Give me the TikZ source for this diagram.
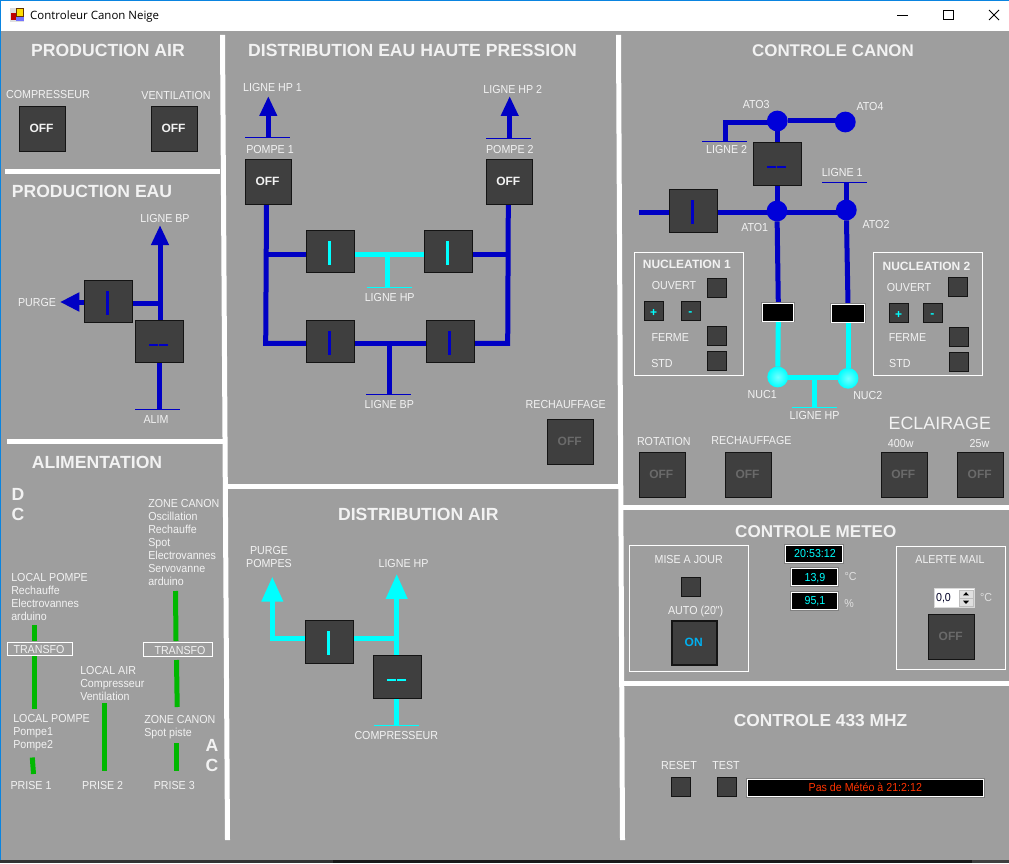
\documentclass[tikz,border=0pt]{standalone}
\usepackage{fontspec}
\setmainfont{Liberation Sans}
\newfontfamily\labf[FakeStretch=0.92]{Liberation Sans}
\newfontfamily\titf{Open Sans}
\usetikzlibrary{calc,arrows.meta,positioning}
\pgfdeclarelayer{panel}\pgfdeclarelayer{pipes}
\pgfsetlayers{panel,pipes,main}
\definecolor{panelgray}{HTML}{9E9E9E}
\definecolor{btnfill}{HTML}{3F3F3F}
\definecolor{btnedge}{HTML}{141414}
\definecolor{pblue}{HTML}{0000C4}
\definecolor{pcyan}{HTML}{00FFFF}
\definecolor{pgreen}{HTML}{00B800}
\definecolor{txt}{HTML}{F2F2F2}
\definecolor{dimoff}{HTML}{6A6A6A}
\definecolor{winblue}{HTML}{0A84E0}
\definecolor{onblue}{HTML}{00B0F0}
\definecolor{alarmred}{HTML}{FF3300}
\tikzset{
 x=.75pt,y=-.75pt,
 boxbase/.style={draw=btnedge,fill=btnfill,line width=.75pt,inner sep=0,outer sep=0},
 valve/.style={boxbase,minimum width=35.55pt,minimum height=31.6pt},
 bigbtn/.style={boxbase,minimum width=34pt,minimum height=33.3pt},
 smallbtn/.style={boxbase,minimum size=13.8pt},
 onbtn/.style={bigbtn,line width=1.6pt,minimum width=33.4pt,minimum height=32.7pt},
 lab/.style={text=txt,inner sep=0,anchor=base,yshift=-3.1pt,font=\fontsize{8.7}{9.75}\selectfont\labf},
 lablist/.style={text=txt,inner sep=0,anchor=north west,align=left,font=\fontsize{8.7}{9.75}\selectfont\labf},
 titl/.style={text=txt,inner sep=0,anchor=base,yshift=-4.6pt,font=\fontsize{#1}{14}\selectfont\bfseries},
 titl/.default=13.2,
 eclair/.style={text=txt,inner sep=0,anchor=base,yshift=-4.9pt,font=\fontsize{13.4}{15}\selectfont},
 offtx/.style={text=#1,inner sep=0,anchor=base,yshift=-3.2pt,font=\fontsize{9}{10}\selectfont\bfseries},
 offtx/.default=txt,
 nuct/.style={text=txt,inner sep=0,anchor=base,yshift=-3.2pt,font=\fontsize{9}{10}\selectfont\bfseries},
 frame/.style={draw=white,line width=.75pt,fill=none,inner sep=0,outer sep=0},
 disp/.style={draw=white,fill=black,line width=.75pt,inner sep=0,outer sep=0,preaction={draw=gray,line width=2.2pt}},
 bluep/.style={draw=pblue,line width=3.75pt},
 cyanp/.style={draw=pcyan,line width=3.75pt},
 greenp/.style={draw=pgreen,line width=3.75pt},
 blueend/.style={draw=pblue,line width=.75pt},
 cyanend/.style={draw=pcyan,line width=.75pt},
 bluearrow/.style={bluep,-{Triangle[width=12.5pt,length=15pt]}},
 cyanarrow/.style={cyanp,-{Triangle[width=15.5pt,length=18.7pt]}},
 ato/.style={circle,fill=blue!85!black,inner sep=0,outer sep=0,minimum size=15.6pt},
 nuc/.style={circle,inner color=pcyan!55!white,outer color=pcyan,inner sep=0,outer sep=0,minimum size=15.6pt},
}
\newcommand{\lbl}[4][]{\node[lab,#1] (#2) at (#3) {#4};}
\newcommand{\ttl}[4][13.2]{\node[titl=#1] (#2) at (#3) {#4};}
\newcommand{\Ivalve}[3]{\node[valve] (#1) at (#2) {};\fill[#3] ($(#1.center)+(-2.7,-10.7)$) rectangle ($(#1.center)+(.7,13.3)$);}
\newcommand{\Dvalve}[3]{\node[valve] (#1) at (#2) {};
 \fill[#3] ($(#1.center)+(-10.5,2.4)$) rectangle ($(#1.center)+(-1.5,4.4)$);
 \fill[#3] ($(#1.center)+(-.5,2.4)$) rectangle ($(#1.center)+(8.5,4.4)$);}
\newcommand{\Btn}[5][txt]{\node[bigbtn] (#2) at (#3) {};\node[offtx=#1] (#2t) at (#4) {#5};}
\begin{document}
\begin{tikzpicture}
\useasboundingbox (0,0) rectangle (1009,863);
\begin{pgfonlayer}{panel}
\fill[white] (0,0) rectangle (1009,863);
\fill[panelgray] (0,31) rectangle (1009,860);
\fill[black!90] (0,860) rectangle (1009,863);
\fill[black!80] (0,860) rectangle (333,863);
\fill[black!75] (972,860) rectangle (1009,863);
\fill[winblue] (0,0) rectangle (1009,1);
\fill[winblue] (0,0) rectangle (1,860);
% separators
\fill[white] (220,35) -- (225,35) -- (230,840) -- (225,840) -- cycle;
\fill[white] (616,35) -- (621,35) -- (625,840) -- (620,840) -- cycle;
\fill[white] (5,169) rectangle (220,174);
\fill[white] (7,439) rectangle (223,444);
\fill[white] (227,484) rectangle (619,489);
\fill[white] (622,505) rectangle (1009,510);
\fill[white] (624,681) rectangle (1009,686);
\end{pgfonlayer}
% title bar
\node[inner sep=0,anchor=base,font=\fontsize{8.6}{10}\selectfont\titf,text=black] (wintitle) at (94.7,20) {Controleur Canon Neige};
\fill[gray!25] (10,8) rectangle (24,22);
\fill[yellow!80!orange,draw=black!60!orange,line width=.3pt] (16,8.5) rectangle (23.5,16);
\fill[red!75!black] (11,13) rectangle (15.5,20);
\fill[blue!55!white] (16,17) rectangle (23.5,21);
\draw[black,line width=.75pt] (897,15.5) -- (908,15.5);
\draw[black,line width=.75pt] (943.5,10.5) rectangle (953,19.5);
\draw[black,line width=.6pt] (989,10) -- (999,20) (999,10) -- (989,20);

% ---------- PRODUCTION AIR
\ttl{tPA}{108,50}{PRODUCTION AIR}
\lbl{lComp}{48,94}{COMPRESSEUR}
\lbl{lVent}{176,95}{VENTILATION}
\Btn{bComp}{42.5,129}{41.5,128}{OFF}
\Btn{bVent}{174.5,129}{173.5,128}{OFF}

% ---------- PRODUCTION EAU
\ttl{tPE}{92,191}{PRODUCTION EAU}
\lbl{lBP}{165,218}{LIGNE BP}
\lbl{lPurge}{37,302}{PURGE}
\lbl{lAlim}{156,419}{ALIM}
\Ivalve{eI}{108.5,301.5}{pblue}
\Dvalve{eD}{159.5,341.5}{pblue}
\coordinate (eTip) at (160,225);
\coordinate (eJ) at (160,303);
\coordinate (pTip) at (60,302);
\coordinate (aEnd) at (159.5,409);
\coordinate (aL) at (135,409);
\coordinate (aR) at (180,409);
\begin{pgfonlayer}{pipes}
\draw[bluearrow] (eD.north -| eTip) -- (eTip);
\draw[bluep] (eI.east |- eJ) -- (eJ);
\draw[bluep,-{Triangle[width=13.5pt,length=14.5pt]}] (eI.west |- pTip) -- (pTip);
\draw[bluep] (eD.south -| aEnd) -- (aEnd);
\draw[blueend] (aL) -- (aR);
\end{pgfonlayer}

% ---------- ALIMENTATION
\ttl{tAL}{97,462}{ALIMENTATION}
\ttl{tD}{18,494}{D}\ttl{tC}{18,514}{C}
\ttl{tA}{212,745}{A}\ttl{tC2}{212,765}{C}
\node[lablist] (zc1) at (148,499.6) {ZONE CANON\\Oscillation\\Rechauffe\\Spot\\Electrovannes\\Servovanne\\arduino};
\node[lablist] (lp1) at (11,573.6) {LOCAL POMPE\\Rechauffe\\Electrovannes\\arduino};
\node[lablist] (lp2) at (13,714.6) {LOCAL POMPE\\Pompe1\\Pompe2};
\node[lablist] (la) at (80,665.9) {LOCAL AIR\\Compresseur\\Ventilation};
\node[lablist] (zc2) at (144,715.6) {ZONE CANON\\Spot piste};
\node[frame,minimum width=49pt,minimum height=10.2pt] (tr1) at (40,649) {};
\node[frame,minimum width=51.8pt,minimum height=10.5pt] (tr2) at (178,649.5) {};
\lbl{ltr1}{39,649}{TRANSFO}
\lbl{ltr2}{180,650}{TRANSFO}
\lbl{pr1}{31,785.7}{PRISE 1}
\lbl{pr2}{102.7,785.7}{PRISE 2}
\lbl{pr3}{174.3,785.7}{PRISE 3}
\coordinate (g1a) at (34.5,625);\coordinate (g1b) at (34.5,641);
\coordinate (g2a) at (34.5,656);\coordinate (g2b) at (34.5,709);
\coordinate (g3a) at (32.3,757.5);\coordinate (g3b) at (33.5,774);
\coordinate (g4a) at (104.5,703);\coordinate (g4b) at (104.5,771);
\coordinate (g5a) at (175.5,591);\coordinate (g5b) at (176,641);
\coordinate (g6a) at (176.5,660);\coordinate (g6b) at (177.2,707);
\coordinate (g7a) at (176.5,743);\coordinate (g7b) at (176.5,771);
\begin{pgfonlayer}{pipes}
\foreach \a/\b in {g1a/g1b,g2a/g2b,g3a/g3b,g4a/g4b,g5a/g5b,g6a/g6b,g7a/g7b} \draw[greenp] (\a) -- (\b);
\end{pgfonlayer}

% ---------- DISTRIBUTION EAU HP
\ttl{tDE}{412.5,50}{DISTRIBUTION EAU HAUTE PRESSION}
\lbl{lhp1}{272.5,87.3}{LIGNE HP 1}
\lbl{lhp2}{512.7,89.7}{LIGNE HP 2}
\lbl{lpo1}{270,149.3}{POMPE 1}
\lbl{lpo2}{509.8,149.3}{POMPE 2}
\Btn{bP1}{268.5,182}{267.5,181.3}{OFF}
\Btn{bP2}{509.5,182}{508.3,181.3}{OFF}
\Ivalve{v1}{330.5,251.8}{pcyan}
\Ivalve{v2}{448.5,251.8}{pcyan}
\Ivalve{v3}{330.5,341.8}{pblue}
\Ivalve{v4}{450.5,341.8}{pblue}
\lbl{lhpm}{389.7,297.7}{LIGNE HP}
\lbl{lbpm}{389.3,404.3}{LIGNE BP}
\lbl{lrech}{565.7,404.3}{RECHAUFFAGE}
\Btn[dimoff]{bRe}{570.5,442}{569.7,441.7}{OFF}
\coordinate (t1) at (268.3,96);\coordinate (b1) at (268.3,137.7);
\coordinate (b1L) at (245,137.7);\coordinate (b1R) at (290,137.7);
\coordinate (t2) at (509.7,96);\coordinate (b2) at (509.7,138.3);
\coordinate (b2L) at (486,138.3);\coordinate (b2R) at (531,138.3);
\coordinate (jL1) at (266.3,254.3);\coordinate (jL2) at (265.7,343.3);
\coordinate (jR1) at (508.3,254.3);\coordinate (jR2) at (507.7,343.3);
\coordinate (tH) at (387.3,254.3);\coordinate (tHe) at (387.3,287.3);
\coordinate (tHL) at (367.3,287.3);\coordinate (tHR) at (412,287.3);
\coordinate (tB) at (389.3,343.3);\coordinate (tBe) at (389.3,394.3);
\coordinate (tBL) at (366,394.3);\coordinate (tBR) at (411,394.3);
\coordinate (pL) at (266.5,204.7);\coordinate (pR) at (508.3,204.7);
\begin{pgfonlayer}{pipes}
\draw[bluearrow] (b1) -- (t1);
\draw[blueend] (b1L) -- (b1R);
\draw[bluearrow] (b2) -- (t2);
\draw[blueend] (b2L) -- (b2R);
\draw[bluep] (pL) -- (jL2) -- (v3.west |- jL2);
\draw[bluep] (pR) -- (jR2) -- (v4.east |- jR2);
\draw[bluep] (jL1) -- (v1.west |- jL1);
\draw[bluep] (jR1) -- (v2.east |- jR1);
\draw[cyanp] (v1.east |- tH) -- (v2.west |- tH);
\draw[cyanp] (tH) -- (tHe);
\draw[cyanend] (tHL) -- (tHR);
\draw[bluep] (v3.east |- tB) -- (v4.west |- tB);
\draw[bluep] (tB) -- (tBe);
\draw[blueend] (tBL) -- (tBR);
\end{pgfonlayer}

% ---------- DISTRIBUTION AIR
\ttl{tDA}{418.3,514}{DISTRIBUTION AIR}
\lbl{lpu}{269,550.7}{PURGE}
\lbl{lpp}{269,563.3}{POMPES}
\lbl{lhpa}{403.5,563.3}{LIGNE HP}
\lbl{lcpa}{396.3,735.7}{COMPRESSEUR}
\Ivalve{aI}{329.5,642}{pcyan}
\Dvalve{aD}{397.5,677}{pcyan}
\coordinate (aT1) at (272.3,576.7);
\coordinate (aJ1) at (272.3,638.7);
\coordinate (aJ2) at (396.7,638.7);
\coordinate (aT2) at (396.7,574);
\coordinate (aB) at (396.7,725.3);
\coordinate (aBL) at (374,725.3);\coordinate (aBR) at (419,725.3);
\begin{pgfonlayer}{pipes}
\draw[cyanp] (aI.west |- aJ1) -- (aJ1) -- ($(aJ1)+(0,-36)$);
\draw[cyanarrow] ($(aJ1)+(0,-30)$) -- (aT1);
\draw[cyanp] (aI.east |- aJ2) -- (aJ2);
\draw[cyanarrow] (aD.north -| aT2) -- (aT2);
\draw[cyanp] (aD.south -| aB) -- (aB);
\draw[cyanend] (aBL) -- (aBR);
\end{pgfonlayer}

% ---------- CONTROLE CANON
\ttl[12.7]{tCC}{833,50}{CONTROLE CANON}
\node[ato] (ato3) at (777.3,121) {};
\node[ato] (ato4) at (845.3,122) {};
\node[ato] (ato1) at (777,211) {};
\node[ato] (ato2) at (846.3,210) {};
\node[nuc] (nuc1) at (777.7,377) {};
\node[nuc] (nuc2) at (848,378.3) {};
\lbl{lato3}{756.2,104.3}{ATO3}
\lbl{lato4}{870,106.3}{ATO4}
\lbl{lato1}{754.7,227.7}{ATO1}
\lbl{lato2}{876,224.3}{ATO2}
\lbl{lnuc1}{762.2,394.3}{NUC1}
\lbl{lnuc2}{867.8,395.3}{NUC2}
\lbl{ll2}{726.7,149.3}{LIGNE 2}
\lbl{ll1}{842.2,172.7}{LIGNE 1}
\lbl{lhpc}{814.5,415.3}{LIGNE HP}
\Dvalve{cD}{777.5,164}{pblue}
\Ivalve{cI}{693.5,211}{pblue}
\node[disp,minimum width=23.1pt,minimum height=13.2pt] (d1) at (778.3,312.2) {};
\node[disp,minimum width=25.2pt,minimum height=13.2pt] (d2) at (848,313.2) {};
\coordinate (cL) at (725,122.3);\coordinate (cLb) at (725,141.3);
\coordinate (cLL) at (702.3,141.3);\coordinate (cLR) at (747.3,141.3);
\coordinate (cW) at (639.3,212.3);
\coordinate (cT1) at (846,182.3);\coordinate (cT1L) at (822,182.3);\coordinate (cT1R) at (867,182.3);
\coordinate (cH) at (814,377.3);\coordinate (cHe) at (814,407.3);
\coordinate (cHL) at (792.3,407.3);\coordinate (cHR) at (837,407.3);
\begin{pgfonlayer}{pipes}
\draw[bluep] (ato3 |- cL) -- (cL) -- (cLb);
\draw[blueend] (cLL) -- (cLR);
\draw[bluep] (ato3) -- (ato4 |- ato3);
\draw[bluep] (ato3) -- (cD.north -| ato3);
\draw[bluep] (cD.south -| ato1) -- (ato1);
\draw[bluep] (cW) -- (cI.west |- cW);
\draw[bluep] (cI.east |- cW) -- (ato2 |- cW);
\draw[bluep] (cT1) -- (cT1 |- ato2);
\draw[blueend] (cT1L) -- (cT1R);
\draw[bluep] (ato1) -- (d1.north);
\draw[bluep] (ato2) -- (d2.north);
\draw[cyanp] (d1.south) -- (nuc1);
\draw[cyanp] (d2.south) -- (nuc2);
\draw[cyanp] (nuc1 |- cH) -- (nuc2 |- cH);
\draw[cyanp] (cH) -- (cHe);
\draw[cyanend] (cHL) -- (cHR);
\end{pgfonlayer}
% nucleation 1
\node[frame,minimum width=81.8pt,minimum height=91.7pt] (n1f) at (689,314) {};
\node[nuct] (n1t) at (686.8,264.7) {NUCLEATION 1};
\lbl{n1o}{674,285.7}{OUVERT}
\lbl{n1f2}{670.3,337.7}{FERME}
\lbl{n1s}{662,363.7}{STD}
\node[smallbtn] (n1bo) at (717,288) {};
\node[smallbtn] (n1bf) at (717,336) {};
\node[smallbtn] (n1bs) at (717,361) {};
\node[smallbtn] (n1p) at (654,311) {};
\node[smallbtn] (n1m) at (691,311) {};
\node[offtx=pcyan] (n1pt) at (653.7,312.3) {+};
\node[offtx=pcyan] (n1mt) at (690.3,311.5) {-};
% nucleation 2
\node[frame,minimum width=81.8pt,minimum height=91.7pt] (n2f) at (928,314) {};
\node[nuct] (n2t) at (926.5,266.7) {NUCLEATION 2};
\lbl{n2o}{909,287.7}{OUVERT}
\lbl{n2f2}{907.5,337.7}{FERME}
\lbl{n2s}{899.8,363.7}{STD}
\node[smallbtn] (n2bo) at (958,287) {};
\node[smallbtn] (n2bf) at (959,337) {};
\node[smallbtn] (n2bs) at (959,362) {};
\node[smallbtn] (n2p) at (899,313) {};
\node[smallbtn] (n2m) at (933,313) {};
\node[offtx=pcyan] (n2pt) at (898.7,314.3) {+};
\node[offtx=pcyan] (n2mt) at (932.3,313.5) {-};
% bottom of canon
\node[eclair] (tEc) at (939.8,423.3) {ECLAIRAGE};
\lbl{l400}{900.7,443}{400w}
\lbl{l25}{979.5,443}{25w}
\lbl{lrot}{663.8,441.7}{ROTATION}
\lbl{lre2}{751.5,440.7}{RECHAUFFAGE}
\Btn[dimoff]{bRot}{662.5,475}{661.3,474.7}{OFF}
\Btn[dimoff]{bRe2}{748.5,475}{747.5,474.7}{OFF}
\Btn[dimoff]{b400}{904.5,475}{903.3,474.7}{OFF}
\Btn[dimoff]{b25}{980.5,475}{979.7,474.7}{OFF}

% ---------- CONTROLE METEO
\ttl[12.8]{tCM}{815.8,531}{CONTROLE METEO}
\node[frame,minimum width=89.5pt,minimum height=94.5pt] (mF1) at (689,608.3) {};
\node[frame,minimum width=82pt,minimum height=91.9pt] (mF2) at (951,608) {};
\lbl{lmaj}{688.7,559.7}{MISE A JOUR}
\node[smallbtn] (bMaj) at (691,587) {};
\lbl{lauto}{695.7,610.7}{AUTO (20")}
\node[onbtn] (bOn) at (694.5,643) {};
\node[offtx=onblue] (tOn) at (693.7,642.7) {ON};
\node[disp,minimum width=42.5pt,minimum height=12.6pt] (dT) at (814,554) {};
\node[disp,minimum width=35pt,minimum height=12.6pt] (dA) at (814.5,577.2) {};
\node[disp,minimum width=35pt,minimum height=12.6pt] (dH) at (814.5,600.8) {};
\lbl[text=pcyan]{tT}{815,553.7}{20:53:12}
\lbl[text=pcyan]{tA2}{815,577}{13,9}
\lbl[text=pcyan]{tH}{815,600.7}{95,1}
\lbl[text=gray!25]{uT}{850.5,576.7}{°C}
\lbl[text=gray!25]{uH}{849,603.7}{\%}
\lbl{lal}{950,559.7}{ALERTE MAIL}
\node[fill=white,draw=gray!30,line width=.75pt,inner sep=0,outer sep=0,minimum width=29.5pt,minimum height=13.8pt] (spin) at (954.5,598) {};
\node[fill=gray!25,draw=gray!50,line width=.3pt,inner sep=0,outer sep=0,minimum width=10.5pt,minimum height=6pt] (spU) at (966,593.8) {};
\node[fill=gray!25,draw=gray!50,line width=.3pt,inner sep=0,outer sep=0,minimum width=10.5pt,minimum height=6pt] (spD) at (966,602.3) {};
\fill[black] ($(spU.center)+(-3,1.6)$) -- ($(spU.center)+(3,1.6)$) -- ($(spU.center)+(0,-1.6)$) -- cycle;
\fill[black] ($(spD.center)+(-3,-1.6)$) -- ($(spD.center)+(3,-1.6)$) -- ($(spD.center)+(0,1.6)$) -- cycle;
\lbl[text=black!85!blue]{tSp}{943.5,597}{0,0}
\lbl[text=gray!25]{uS}{986,597}{°C}
\Btn[dimoff]{bAl}{951.5,637}{950.7,636.7}{OFF}

% ---------- 433
\ttl[13]{t43}{820.5,720}{CONTROLE 433 MHZ}
\lbl{lrs}{679,765.7}{RESET}
\lbl{lts}{726,765.7}{TEST}
\node[smallbtn] (bRs) at (681,787) {};
\node[smallbtn] (bTs) at (727,787) {};
\node[disp,minimum width=176.6pt,minimum height=12.8pt] (dSt) at (865.5,788) {};
\lbl[text=alarmred]{tSt}{865.3,787.7}{Pas de Météo à 21:2:12}
\end{tikzpicture}
\end{document}
